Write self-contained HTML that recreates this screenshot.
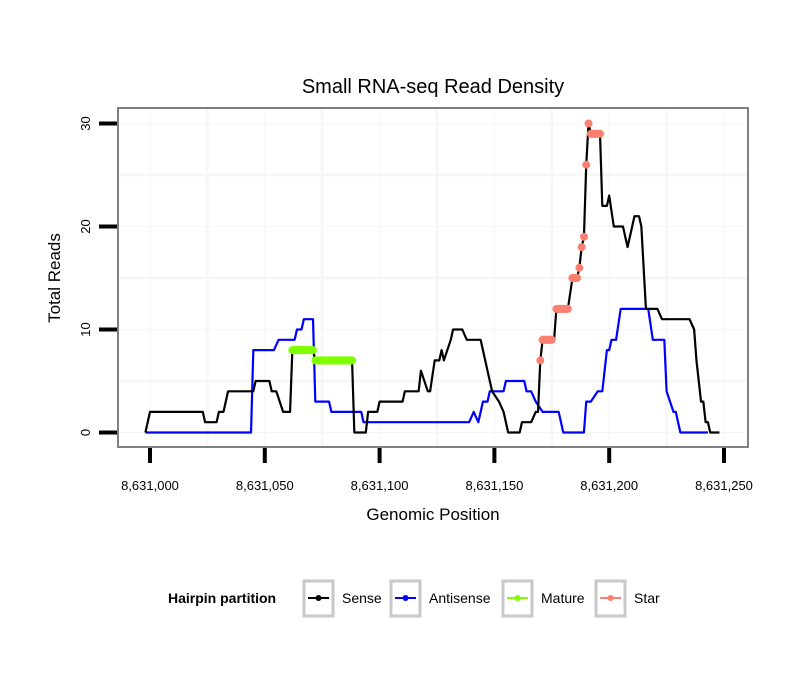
<!DOCTYPE html>
<html><head><meta charset="utf-8"><style>
body{margin:0;background:#fff;}
svg{font-family:"Liberation Sans",sans-serif;}
</style></head><body>
<svg id="chart" width="810" height="690" xmlns="http://www.w3.org/2000/svg">
<text x="433" y="93" font-size="20" text-anchor="middle">Small RNA-seq Read Density</text>
<rect x="118" y="108" width="630" height="339" fill="#fff"/>
<g id="grid"></g>
<g id="series"></g>
<rect x="118" y="108" width="630" height="339" fill="none" stroke="#808080" stroke-width="2"/>
<g id="axes"></g>
<text x="433" y="520" font-size="17" text-anchor="middle">Genomic Position</text>
<text transform="translate(60,278) rotate(-90)" font-size="17" text-anchor="middle">Total Reads</text>
<g>
<text x="168" y="603" font-size="14" font-weight="bold">Hairpin partition</text>
<g><rect x="304" y="581" width="29" height="35" fill="#fff" stroke="#c8c8c8" stroke-width="3"/><line x1="308" y1="598" x2="329" y2="598" stroke="#000" stroke-width="2"/><circle cx="318.5" cy="598" r="3" fill="#000"/><text x="342" y="603" font-size="14">Sense</text></g>
<g><rect x="391" y="581" width="29" height="35" fill="#fff" stroke="#c8c8c8" stroke-width="3"/><line x1="395" y1="598" x2="416" y2="598" stroke="#00f" stroke-width="2"/><circle cx="405.5" cy="598" r="3" fill="#00f"/><text x="429" y="603" font-size="14">Antisense</text></g>
<g><rect x="503" y="581" width="29" height="35" fill="#fff" stroke="#c8c8c8" stroke-width="3"/><line x1="507" y1="598" x2="528" y2="598" stroke="#7fff00" stroke-width="2"/><circle cx="517.5" cy="598" r="3" fill="#7fff00"/><text x="541" y="603" font-size="14">Mature</text></g>
<g><rect x="596" y="581" width="29" height="35" fill="#fff" stroke="#c8c8c8" stroke-width="3"/><line x1="600" y1="598" x2="621" y2="598" stroke="#fa8072" stroke-width="2"/><circle cx="610.5" cy="598" r="3" fill="#fa8072"/><text x="634" y="603" font-size="14">Star</text></g>
</g>
</svg>
<script>
const xTicks=[0,50,100,150,200,250];
const xTickLabels=["8,631,000","8,631,050","8,631,100","8,631,150","8,631,200","8,631,250"];
const yTicks=[0,10,20,30];
const senseX=[-2,0,23,24,29,30,32,34,45,46,52,53,55,58,61,62,71,72,88,89,94,95,99,100,110,111,117,118,121,122,124,126,127,128,131,132,136,138,144,146,147,148,149,152,154,156,161,162,166,168,169,170,171,176,177,182,184,186,187,188,189,190,191,192,196,197,199,200,202,206,208,211,213,214,216,221,223,235,237,238,240,241,242,243,244,248];
const senseY=[0,2,2,1,1,2,2,4,4,5,5,4,4,2,2,8,8,7,7,0,0,2,2,3,3,4,4,6,4,4,7,7,8,7,9,10,10,9,9,7,6,5,4,3,2,0,0,1,1,2,2,7,9,9,12,12,15,15,16,18,19,26,30,29,29,22,22,23,20,20,18,21,21,20,12,12,11,11,10,7,3,3,1,1,0,0];
const antiX=[-2,44,45,54,56,63,64,66,67,71,72,78,79,92,93,139,141,143,145,147,148,154,155,163,164,166,168,171,172,178,179,180,189,190,192,195,197,199,200,201,203,205,217,219,224,225,228,229,231,243];
const antiY=[0,0,8,8,9,9,10,10,11,11,3,3,2,2,1,1,2,1,3,3,4,4,5,5,4,4,3,2,2,2,1,0,0,3,3,4,4,8,8,9,9,12,12,9,9,4,2,2,0,0];
const matureX=[62,63,64,65,66,67,68,69,70,71,72,73,74,75,76,77,78,79,80,81,82,83,84,85,86,87,88];
const matureY=[8,8,8,8,8,8,8,8,8,8,7,7,7,7,7,7,7,7,7,7,7,7,7,7,7,7,7];
const starX=[170,171,172,173,174,175,177,178,179,180,181,182,184,185,186,187,188,189,190,191,192,193,194,195,196];
const starY=[7,9,9,9,9,9,12,12,12,12,12,12,15,15,15,16,18,19,26,30,29,29,29,29,29];
const NS="http://www.w3.org/2000/svg";
const xs=v=>150+v*2.296, ys=v=>432.5-v*10.3;
function mk(t,a,p){const e=document.createElementNS(NS,t);for(const k in a)e.setAttribute(k,a[k]);p.appendChild(e);return e;}
const grid=document.getElementById('grid'),ser=document.getElementById('series'),ax=document.getElementById('axes');
for(let v=-25;v<=275;v+=25){const x=xs(v);if(x<119||x>747)continue;const l=mk('line',{x1:x,x2:x,y1:109,y2:446,stroke:'#f6f6f6','stroke-width':v%50?2.5:1},grid);

}
for(let v=0;v<=30;v+=5){const y=ys(v);const l=mk('line',{x1:119,x2:747,y1:y,y2:y,stroke:'#f6f6f6','stroke-width':v%10?2.5:1},grid);

}
xTicks.forEach((v,i)=>{const x=xs(v);const l=mk('line',{x1:x,x2:x,y1:448,y2:463,stroke:'#000','stroke-width':4},ax);


const t=mk('text',{x:x,y:490,'font-size':13,'text-anchor':'middle'},ax);t.textContent=xTickLabels[i];

});
yTicks.forEach(v=>{const y=ys(v);const l=mk('line',{x1:99,x2:117,y1:y,y2:y,stroke:'#000','stroke-width':4},ax);


const t=mk('text',{transform:`translate(90,${y}) rotate(-90)`,'font-size':13,'text-anchor':'middle'},ax);t.textContent=v;

});
function line(X,Y,c,name){const p=mk('polyline',{points:X.map((x,i)=>xs(x)+','+ys(Y[i])).join(' '),fill:'none',stroke:c,'stroke-width':2.2,'stroke-linejoin':'round'},ser);

}
line(antiX,antiY,'#0000ff','antisense-line');
line(senseX,senseY,'#000','sense-line');
function pts(X,Y,c,name){X.forEach((x,i)=>{if(i>0&&X[i]-X[i-1]===1&&Y[i]===Y[i-1]){const l=mk('line',{x1:xs(X[i-1]),x2:xs(x),y1:ys(Y[i]),y2:ys(Y[i]),stroke:c,'stroke-width':8},ser);

}
const d=mk('circle',{cx:xs(x),cy:ys(Y[i]),r:4,fill:c},ser);

});}
pts(matureX,matureY,'#7fff00','mature');
pts(starX,starY,'#fa8072','star');
</script>
</body></html>
